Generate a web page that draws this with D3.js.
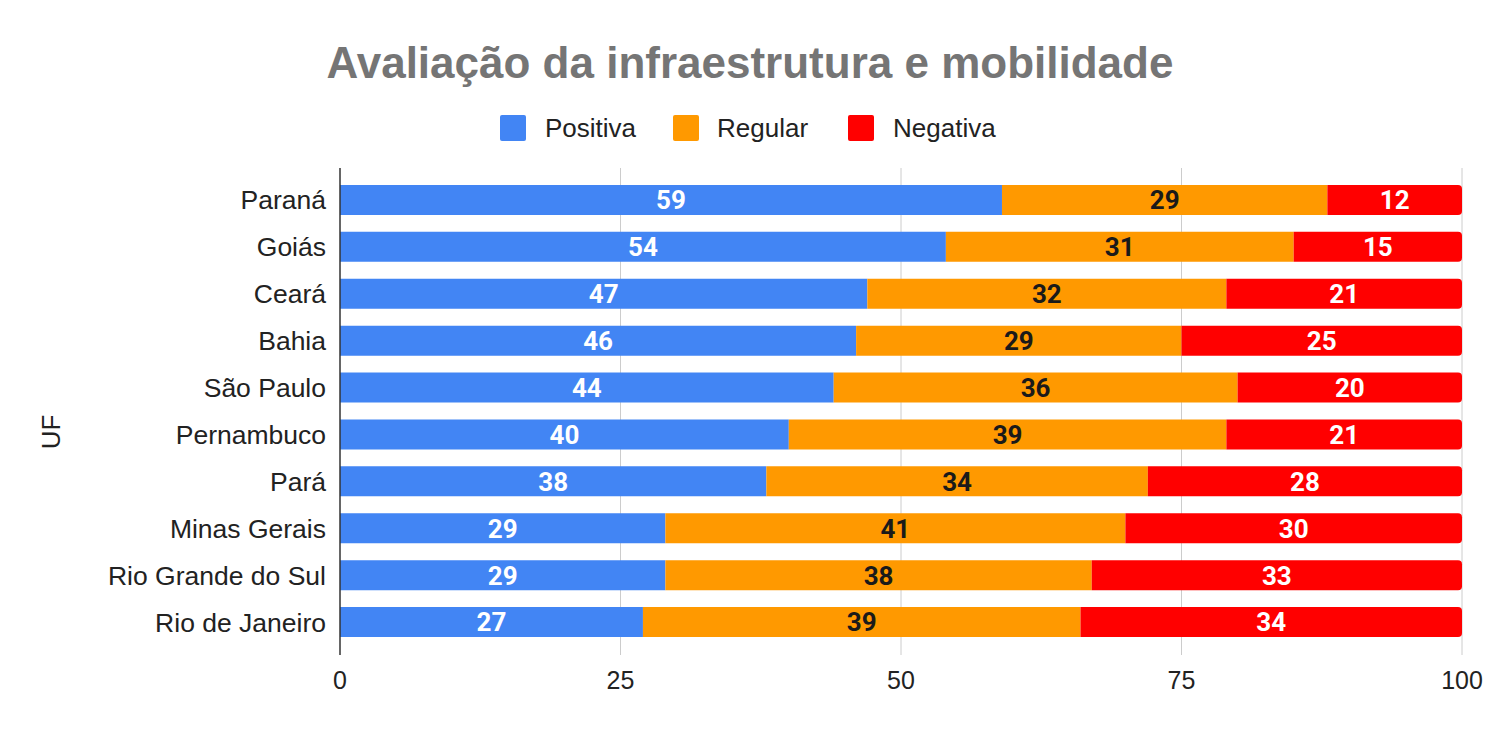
<!DOCTYPE html>
<html><head><meta charset="utf-8">
<script src="https://cdn.jsdelivr.net/npm/d3@7"></script>
<style>body{margin:0;background:#fff;} svg{display:block;}</style>
</head><body>
<svg id="c" width="1500" height="734"></svg>
<script>
const categories = ["Paraná","Goiás","Ceará","Bahia","São Paulo","Pernambuco","Pará","Minas Gerais","Rio Grande do Sul","Rio de Janeiro"];
const positiva = [59,54,47,46,44,40,38,29,29,27];
const regular  = [29,31,32,29,36,39,34,41,38,39];
const negativa = [12,15,21,25,20,21,28,30,33,34];
const seriesNames = ["Positiva","Regular","Negativa"];
const seriesColors = ["#4285F4","#FF9900","#FF0000"];
const labelColors = ["#ffffff","#1a1a1a","#ffffff"];
const xTicks = [0,25,50,75,100];
const title = "Avaliação da infraestrutura e mobilidade";
const yTitle = "UF";

const svg = d3.select("#c");
const font = "'Liberation Sans', Arial, sans-serif";
const labelFont = "Roboto, Arial, sans-serif";
const x = d3.scaleLinear().domain([0,100]).range([340,1462]);
const y = d3.scaleBand().domain(categories).range([176.5,645.5]).paddingInner(0.36).paddingOuter(0.18);

// gridlines
svg.append("g").selectAll("line").data(xTicks.slice(1)).join("line")
  .attr("x1",d=>x(d)).attr("x2",d=>x(d)).attr("y1",168).attr("y2",655)
  .attr("stroke","#cccccc").attr("stroke-width",1);

const rows = categories.map((c,i)=>({cat:c, vals:[positiva[i],regular[i],negativa[i]]}));
const stack = d3.stack().keys([0,1,2]).value((d,k)=>d.vals[k])(rows);

const g = svg.append("g");
stack.forEach((layer,k)=>{
  g.append("g").selectAll("path").data(layer).join("path")
    .attr("fill",seriesColors[k])
    .attr("d",d=>{
      const x0=x(d[0]), x1=x(d[1]), yy=y(d.data.cat), h=y.bandwidth();
      if(k===2){
        const r=4;
        return `M${x0},${yy}H${x1-r}Q${x1},${yy} ${x1},${yy+r}V${yy+h-r}Q${x1},${yy+h} ${x1-r},${yy+h}H${x0}Z`;
      }
      return `M${x0},${yy}H${x1}V${yy+h}H${x0}Z`;
    });
  g.append("g").selectAll("text").data(layer).join("text")
    .attr("x",d=>(x(d[0])+x(d[1]))/2)
    .attr("y",d=>y(d.data.cat)+y.bandwidth()/2)
    .attr("dy","0.36em")
    .attr("text-anchor","middle")
    .attr("font-family",labelFont).attr("font-weight","bold").attr("font-size",26)
    .attr("fill",labelColors[k])
    .text(d=>d[1]-d[0]);
});

// y axis line
svg.append("line").attr("x1",340).attr("x2",340).attr("y1",168).attr("y2",655)
  .attr("stroke","#333").attr("stroke-width",1.5);

// y labels
svg.append("g").selectAll("text").data(categories).join("text")
  .attr("x",326).attr("y",d=>y(d)+y.bandwidth()/2).attr("dy","0.36em")
  .attr("text-anchor","end").attr("font-family",font).attr("font-size",26.5).attr("fill","#222")
  .text(d=>d);

// x tick labels
svg.append("g").selectAll("text").data(xTicks).join("text")
  .attr("x",d=>x(d)).attr("y",689).attr("text-anchor","middle")
  .attr("font-family",font).attr("font-size",25).attr("fill","#222").text(d=>d);

// y title
svg.append("text").attr("transform","translate(60,432) rotate(-90)")
  .attr("text-anchor","middle").attr("font-family",font).attr("font-size",26).attr("fill","#222").text(yTitle);

// title
svg.append("text").attr("x",750).attr("y",78).attr("text-anchor","middle")
  .attr("font-family",font).attr("font-weight","bold").attr("font-size",44).attr("fill","#757575").text(title);

// legend
const legX = [500,673,848];
const legTX = [545,717,893];
const leg = svg.append("g");
seriesNames.forEach((n,i)=>{
  leg.append("rect").attr("x",legX[i]).attr("y",115).attr("width",26).attr("height",26).attr("rx",2).attr("fill",seriesColors[i]);
  leg.append("text").attr("x",legTX[i]).attr("y",128).attr("dy","0.36em")
    .attr("font-family",font).attr("font-size",26).attr("fill","#222").text(n);
});
</script>
</body></html>
